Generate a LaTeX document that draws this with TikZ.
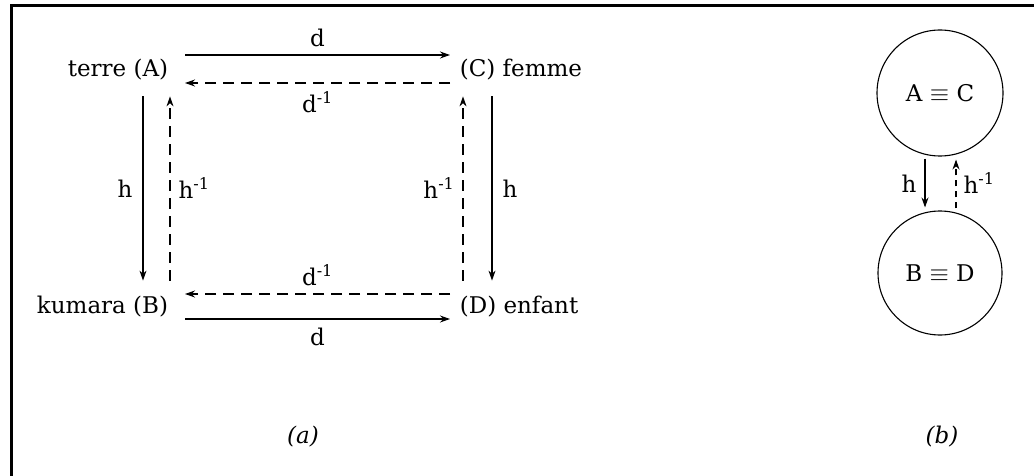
\documentclass[tikz,border=0pt]{standalone}
\usepackage{fontspec}
\setmainfont{DejaVu Serif}
\usetikzlibrary{positioning,arrows.meta}

\begin{document}
\begin{tikzpicture}[x=1pt,y=-1pt,>={Stealth[length=10pt,width=7pt]},
  font=\fontsize{23}{27}\selectfont,line width=1.1pt,
  map/.style={->},
  inv/.style={->,dash pattern=on 11pt off 7pt},
  lbl/.style={inner sep=2pt}]
\useasboundingbox (0,0) rectangle (1034,476);
\draw[line width=3pt] (11.5,476) -- (11.5,5.5) -- (1034,5.5);

% (a) the four terms
\node (A) [anchor=east] at (172,70) {terre (A)};
\node (C) [anchor=west] at (456,70) {(C) femme};
\node (B) [anchor=east] at (172,307) {kumara (B)};
\node (D) [anchor=west] at (456,307) {(D) enfant};

\draw[map] ([xshift=13pt,yshift=15pt]A.east) -- ([xshift=-6pt,yshift=15pt]C.west)
  node[midway,above=6pt,lbl]{d};
\draw[inv] ([xshift=-6pt,yshift=-13pt]C.west) -- ([xshift=13pt,yshift=-13pt]A.east)
  node[midway,below=6pt,lbl]{d\textsuperscript{-1}};
\draw[inv] ([xshift=-6pt,yshift=13pt]D.west) -- ([xshift=13pt,yshift=13pt]B.east)
  node[midway,above=6pt,lbl]{d\textsuperscript{-1}};
\draw[map] ([xshift=13pt,yshift=-12pt]B.east) -- ([xshift=-6pt,yshift=-12pt]D.west)
  node[midway,below=6pt,lbl]{d};

\draw[map] ([xshift=-29pt,yshift=-12pt]A.south east) -- ([xshift=-29pt,yshift=12pt]B.north east)
  node[midway,left=8pt,lbl]{h};
\draw[inv] ([xshift=-2pt,yshift=12pt]B.north east) -- ([xshift=-2pt,yshift=-12pt]A.south east)
  node[midway,right=6pt,lbl]{h\textsuperscript{-1}};
\draw[inv] ([xshift=7pt,yshift=12pt]D.north west) -- ([xshift=7pt,yshift=-12pt]C.south west)
  node[midway,left=6pt,lbl]{h\textsuperscript{-1}};
\draw[map] ([xshift=36pt,yshift=-12pt]C.south west) -- ([xshift=36pt,yshift=12pt]D.north west)
  node[midway,right=8pt,lbl]{h};

\node (capa) at (303,437) {\textit{(a)}};

% (b) the two classes
\node (AC) [circle,draw,minimum size=126pt,inner sep=0pt] at (940,93) {A $\equiv$ C};
\node (BD) [circle,draw,minimum size=124pt,inner sep=0pt] at (940,273) {B $\equiv$ D};
\draw[map,shorten <=2pt,shorten >=3pt] ([xshift=-15pt]AC.south) -- ([xshift=-15pt]BD.north)
  node[midway,left=6pt,lbl]{h};
\draw[inv,shorten <=2pt,shorten >=3pt,dash pattern=on 6pt off 5pt] ([xshift=16pt]BD.north) -- ([xshift=16pt]AC.south)
  node[midway,right=5pt,lbl]{h\textsuperscript{-1}};

\node (capb) at (942,437) {\textit{(b)}};
\end{tikzpicture}
\end{document}
